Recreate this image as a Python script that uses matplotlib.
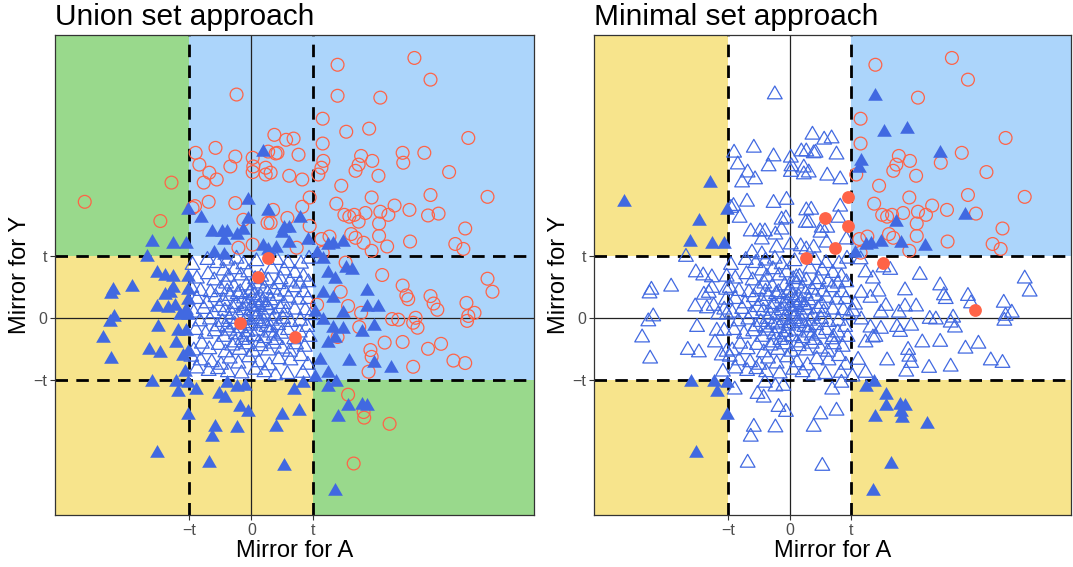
import matplotlib.pyplot as plt
import numpy as np
from matplotlib.patches import Rectangle
from matplotlib.path import Path

plt.rcParams['font.family'] = ['Liberation Sans', 'DejaVu Sans']

# threshold on both mirror statistics
t = 1.0

# mediators that are true under both the union and the minimal definition
both_pts = [
    (1.39, 4.08), (2.63, 4.19), (2.89, 3.84), (2.08, 3.55), (1.15, 3.21), (3.50, 2.90), (1.15, 2.81),
    (1.77, 2.61), (1.95, 2.53), (1.73, 2.47), (1.68, 2.37), (2.45, 2.50), (2.79, 2.66), (1.08, 2.31),
    (2.05, 2.29), (3.19, 2.35), (1.45, 2.13), (1.94, 1.94), (2.89, 1.98), (3.81, 1.95), (1.37, 1.84),
    (2.31, 1.81), (2.55, 1.74), (1.50, 1.66), (1.58, 1.63), (1.66, 1.66), (1.84, 1.69), (2.08, 1.71),
    (2.21, 1.66), (2.06, 1.52), (3.02, 1.68), (3.45, 1.44), (1.26, 1.31), (1.61, 1.35), (2.06, 1.32),
    (1.68, 1.29), (1.94, 1.08), (2.56, 1.23), (3.29, 1.19), (3.42, 1.11), (1.15, 1.05), (1.13, 1.27),
    (0.94, 1.94), (0.58, 1.61), (0.94, 1.48), (0.73, 1.13), (0.26, 0.97), (1.52, 0.89), (3.00, 0.13),
]

# mediators that are true only under the union definition
union_pts = [
    (-1.29, 2.18), (-2.69, 1.87), (-1.47, 1.56),
    (-0.24, 3.60), (-0.58, 2.74), (-0.90, 2.66), (-0.26, 2.60), (0.02, 2.58), (-0.84, 2.47), (-0.34, 2.44),
    (-0.68, 2.34), (0.02, 2.35), (-0.56, 2.23), (-0.77, 2.18), (-0.69, 1.87), (-0.26, 1.85), (-0.95, 1.77),
    (-0.91, 1.80), (-0.13, 1.58), (0.37, 2.95), (0.56, 2.87), (0.68, 2.89), (0.27, 2.68), (0.39, 2.65),
    (0.42, 2.66), (0.76, 2.63), (0.03, 2.44), (0.23, 2.42), (0.31, 2.34), (0.23, 2.31), (0.61, 2.29),
    (0.82, 2.23), (0.82, 1.79), (0.35, 1.74), (0.26, 1.53), (0.31, 1.53), (-0.21, 1.13), (0.02, 1.18),
    (1.39, 3.58), (1.53, 3.00), (1.90, 3.05), (2.44, 2.66), (1.16, 2.53), (1.13, 2.42), (1.73, 1.55),
    (2.85, 1.65), (1.81, 1.21), (2.19, 1.15),
    (2.11, 0.69), (2.44, 0.52), (2.50, 0.36), (2.53, 0.30), (3.81, 0.63), (3.89, 0.42), (2.89, 0.35),
    (2.94, 0.23), (3.47, 0.24), (3.50, 0.03), (3.60, 0.08), (3.48, -0.05), (1.44, 0.42), (1.56, 0.19),
    (1.77, 0.08), (2.27, -0.02), (2.37, -0.03), (2.65, 0.00), (2.61, -0.08), (2.68, -0.16), (1.74, -0.15),
    (1.39, -0.31), (2.15, -0.40), (2.44, -0.39), (2.85, -0.50), (3.06, -0.42), (1.92, -0.52), (1.94, -0.63),
    (1.89, -0.87), (3.26, -0.69), (3.45, -0.73), (2.61, -0.79), (1.06, 0.21),
    (1.56, -1.24), (1.81, -1.52), (1.82, -1.61), (2.23, -1.71), (1.65, -2.35),
    (-0.19, -0.08), (0.11, 0.65), (0.71, -0.31),
]

# null mediators lying outside the central box
null_outer_pts = [
    (-1.02, 1.74), (-0.81, 1.61), (-0.05, 1.90), (-0.06, 1.60), (-0.63, 1.39), (-0.48, 1.39), (-0.40, 1.39),
    (-0.13, 1.42), (0.19, 2.68), (0.27, 1.73), (0.79, 1.61), (0.52, 1.45), (0.61, 1.45),
    (-1.61, 1.23), (-1.26, 1.19), (-1.06, 1.19), (-0.45, 1.26), (-0.23, 1.34), (-0.61, 1.05), (-0.45, 1.02),
    (0.18, 1.15), (0.27, 1.10), (0.39, 1.13), (0.50, 1.37), (0.60, 1.21), (0.92, 1.26), (1.23, 1.18),
    (1.32, 1.19), (1.48, 1.23), (1.06, 1.05),
    (-1.68, 0.98), (-1.52, 0.73), (-1.40, 0.68), (-1.26, 0.65), (-1.02, 0.66), (-2.24, 0.45), (-2.27, 0.39),
    (-1.92, 0.50), (-1.26, 0.48), (-1.31, 0.40), (-1.39, 0.37), (-1.03, 0.45), (-1.53, 0.18), (-1.34, 0.15),
    (-1.23, 0.19), (-1.03, 0.29), (-1.06, 0.13), (-1.16, 0.05), (-1.02, 0.05), (-2.21, 0.02), (-2.29, -0.06),
    (-1.50, -0.15), (-1.18, -0.21), (-1.06, -0.21), (-2.39, -0.32), (-1.21, -0.40), (-1.65, -0.52),
    (-1.47, -0.56), (-2.26, -0.66), (-1.10, -0.61), (-1.02, -0.55), (-1.08, -0.87),
    (-1.60, -1.03), (-1.22, -1.04), (-1.02, -1.05), (-1.18, -1.19), (-1.02, -1.56), (-1.52, -2.18),
    (1.52, 0.81), (1.63, 0.77), (1.35, 0.63), (1.87, 0.44), (1.87, 0.18), (2.05, 0.18), (1.48, 0.08),
    (1.97, -0.13), (1.79, -0.23), (1.48, -0.18), (1.35, -0.32), (1.58, -0.69), (1.97, -0.73), (2.26, -0.81),
    (1.23, -0.89), (1.15, 0.94), (1.23, 0.73), (1.16, 0.40), (1.31, 0.32), (1.03, 0.10), (1.16, -0.03),
    (1.31, -0.16), (1.23, -0.40), (1.11, -0.68), (1.02, -0.95),
    (1.37, -1.03), (1.24, -1.11), (1.56, -1.42), (1.79, -1.40), (1.87, -1.42), (1.39, -1.60), (1.35, -2.79),
    (-0.89, -1.16), (-0.52, -1.23), (-0.42, -1.29), (-0.23, -1.11), (-0.10, -1.10), (-0.40, -1.05),
    (-0.18, -1.44), (-0.06, -1.52), (-0.58, -1.76), (-0.63, -1.92), (-0.23, -1.77), (-0.68, -2.34),
    (0.50, -1.56), (0.76, -1.50), (0.39, -1.76), (0.53, -2.39), (0.69, -1.16), (0.84, -1.05),
]

# null mediators inside the central box
null_inner_pts = [
    (-0.95, 0.85), (-0.71, 0.93), (-0.55, 0.88), (-0.39, 0.92), (-0.24, 0.95), (-0.13, 0.86), (0.08, 0.91),
    (0.41, 0.93), (0.59, 0.88), (0.80, 0.87), (0.93, 0.95),
    (-0.88, 0.63), (-0.70, 0.70), (-0.60, 0.60), (-0.45, 0.76), (-0.37, 0.66), (-0.27, 0.78), (-0.17, 0.68),
    (-0.05, 0.73), (0.06, 0.62), (0.16, 0.66), (0.27, 0.60), (0.33, 0.79), (0.47, 0.62), (0.53, 0.76),
    (0.62, 0.58), (0.70, 0.72), (0.84, 0.66), (0.92, 0.57),
    (-0.97, 0.48), (-0.82, 0.43), (-0.66, 0.41), (-0.50, 0.46), (-0.41, 0.55), (-0.28, 0.50), (-0.18, 0.41),
    (-0.08, 0.52), (0.01, 0.45), (0.12, 0.55), (0.21, 0.47), (0.36, 0.45), (0.44, 0.54), (0.54, 0.42),
    (0.69, 0.49), (0.78, 0.55), (0.85, 0.41),
    (-0.88, 0.30), (-0.72, 0.23), (-0.58, 0.33), (-0.45, 0.27), (-0.34, 0.35), (-0.24, 0.22), (-0.12, 0.31),
    (-0.04, 0.24), (0.04, 0.36), (0.15, 0.33), (0.23, 0.21), (0.31, 0.28), (0.42, 0.35), (0.52, 0.22),
    (0.60, 0.32), (0.76, 0.29), (0.91, 0.30),
    (-0.93, 0.08), (-0.77, 0.14), (-0.61, 0.07), (-0.52, 0.17), (-0.43, 0.11), (-0.30, 0.16), (-0.21, 0.05),
    (-0.13, 0.12), (-0.06, 0.02), (0.03, 0.10), (0.11, 0.17), (0.19, 0.06), (0.28, 0.13), (0.38, 0.03),
    (0.46, 0.15), (0.55, 0.09), (0.70, 0.13), (0.87, 0.12), (0.96, 0.04),
    (-0.83, -0.06), (-0.67, -0.03), (-0.55, -0.14), (-0.47, -0.07), (-0.36, -0.02), (-0.27, -0.11),
    (-0.10, -0.04), (-0.02, -0.13), (0.07, -0.02), (0.14, -0.09), (0.24, -0.15), (0.33, -0.05), (0.43, -0.12),
    (0.51, -0.02), (0.63, -0.07), (0.79, -0.05), (0.90, -0.15),
    (-0.90, -0.20), (-0.74, -0.26), (-0.59, -0.22), (-0.44, -0.31), (-0.35, -0.21), (-0.25, -0.27),
    (-0.15, -0.36), (-0.06, -0.23), (0.04, -0.30), (0.10, -0.21), (0.21, -0.33), (0.30, -0.24), (0.40, -0.36),
    (0.48, -0.26), (0.59, -0.20), (0.69, -0.35), (0.78, -0.24), (0.94, -0.31),
    (-0.93, -0.53), (-0.80, -0.42), (-0.68, -0.51), (-0.53, -0.44), (-0.42, -0.56), (-0.31, -0.45),
    (-0.19, -0.52), (-0.08, -0.43), (0.03, -0.55), (0.15, -0.46), (0.27, -0.53), (0.36, -0.42), (0.50, -0.50),
    (0.62, -0.55), (0.72, -0.43), (0.86, -0.47),
    (-0.97, -0.63), (-0.82, -0.69), (-0.64, -0.72), (-0.49, -0.76), (-0.35, -0.66), (-0.21, -0.74),
    (-0.04, -0.64), (0.12, -0.72), (0.29, -0.77), (0.44, -0.67), (0.63, -0.69), (0.80, -0.62), (0.91, -0.76),
    (-0.88, -0.82), (-0.69, -0.86), (-0.54, -0.83), (-0.38, -0.88), (-0.16, -0.90), (0.06, -0.84),
    (0.21, -0.88), (0.39, -0.93), (0.58, -0.91), (0.83, -0.89),
    (-0.39, 0.42), (-0.22, 0.38), (-0.03, 0.40), (0.08, 0.28), (0.26, 0.39), (-0.31, 0.05), (-0.17, -0.17),
    (0.01, 0.19), (0.09, 0.03), (0.20, -0.06), (-0.08, -0.31), (0.31, -0.16), (-0.40, -0.16), (0.25, 0.20),
    (-0.11, 0.19), (0.36, -0.29), (-0.26, -0.40), (0.12, -0.40), (-0.01, -0.09), (0.17, 0.25),
]

xlim = (-3.17, 4.56)
ylim = (-3.18, 4.56)

green = '#99d98c'
blue = '#acd5fb'
yellow = '#f7e48c'
red = '#ff6347'
royal = '#4169e1'

# closed equilateral triangle marker
tri = Path([(0, 0.577), (-0.5, -0.289), (0.5, -0.289), (0, 0.577)], closed=True)

pts = np.array(both_pts + union_pts + null_outer_pts + null_inner_pts)
px, py = pts[:, 0], pts[:, 1]
n_both, n_union = len(both_pts), len(union_pts)
truth_min = np.zeros(len(pts), bool)
truth_min[:n_both] = True
truth_union = np.zeros(len(pts), bool)
truth_union[:n_both + n_union] = True

BIG = 50


def shade(ax, x0, x1, y0, y1, color):
    ax.add_patch(Rectangle((x0, y0), x1 - x0, y1 - y0, facecolor=color,
                           edgecolor='none', zorder=0))


def draw_panel(ax, title, truth, selected, regions):
    for (x0, x1, y0, y1, c) in regions:
        shade(ax, x0, x1, y0, y1, c)
    ax.axhline(0, color='#222222', lw=0.9, zorder=1)
    ax.axvline(0, color='#222222', lw=0.9, zorder=1)
    for v in (-t, t):
        ax.axhline(v, color='black', lw=2.0, ls=(0, (4.5, 3)), zorder=1.5)
        ax.axvline(v, color='black', lw=2.0, ls=(0, (4.5, 3)), zorder=1.5)

    tp = truth & selected
    fn = truth & ~selected
    fp = ~truth & selected
    tn = ~truth & ~selected
    ax.scatter(px[tn], py[tn], marker=tri, s=150, facecolors='none',
               edgecolors=royal, linewidths=0.9, zorder=2)
    ax.scatter(px[tp], py[tp], marker='o', s=85, facecolors='none',
               edgecolors=red, linewidths=0.9, zorder=3)
    ax.scatter(px[fp], py[fp], marker=tri, s=150, color=royal,
               linewidths=0, zorder=4)
    ax.scatter(px[fn], py[fn], marker='o', s=85, color=red,
               linewidths=0, zorder=5)

    ax.set_xlim(xlim)
    ax.set_ylim(ylim)
    ax.set_xticks([-t, 0, t])
    ax.set_xticklabels(['\u2212t', '0', 't'])
    ax.set_yticks([-t, 0, t])
    ax.set_yticklabels(['\u2212t', '0', 't'])
    ax.tick_params(length=3.5, width=0.8, color='#333333', labelcolor='#4d4d4d',
                   labelsize=11.5, pad=2)
    for sp in ax.spines.values():
        sp.set_color('#333333')
        sp.set_linewidth(0.9)
        sp.set_zorder(6)
    ax.set_xlabel('Mirror for A', fontsize=17, labelpad=2)
    ax.set_ylabel('Mirror for Y', fontsize=17, labelpad=2)
    ax.set_title(title, loc='left', fontsize=21.5, pad=7)


fig = plt.figure(figsize=(10.73, 5.67), dpi=100)
W, H = 1073, 567
ax1 = fig.add_axes([55 / W, 52 / H, 479 / W, 480 / H])
ax2 = fig.add_axes([594 / W, 52 / H, 477 / W, 480 / H])

union_sel = (np.abs(px) > t) | (np.abs(py) > t)
min_sel = (np.abs(px) > t) & (np.abs(py) > t)

draw_panel(ax1, 'Union set approach', truth_union, union_sel, [
    (-BIG, -t, t, BIG, green), (t, BIG, -BIG, -t, green),
    (-t, BIG, t, BIG, blue), (t, BIG, -t, t, blue),
    (-BIG, -t, -BIG, t, yellow), (-t, t, -BIG, -t, yellow),
])
draw_panel(ax2, 'Minimal set approach', truth_min, min_sel, [
    (-BIG, -t, t, BIG, yellow), (-BIG, -t, -BIG, -t, yellow), (t, BIG, -BIG, -t, yellow),
    (t, BIG, t, BIG, blue),
])

fig.savefig('out.png', dpi=100)
